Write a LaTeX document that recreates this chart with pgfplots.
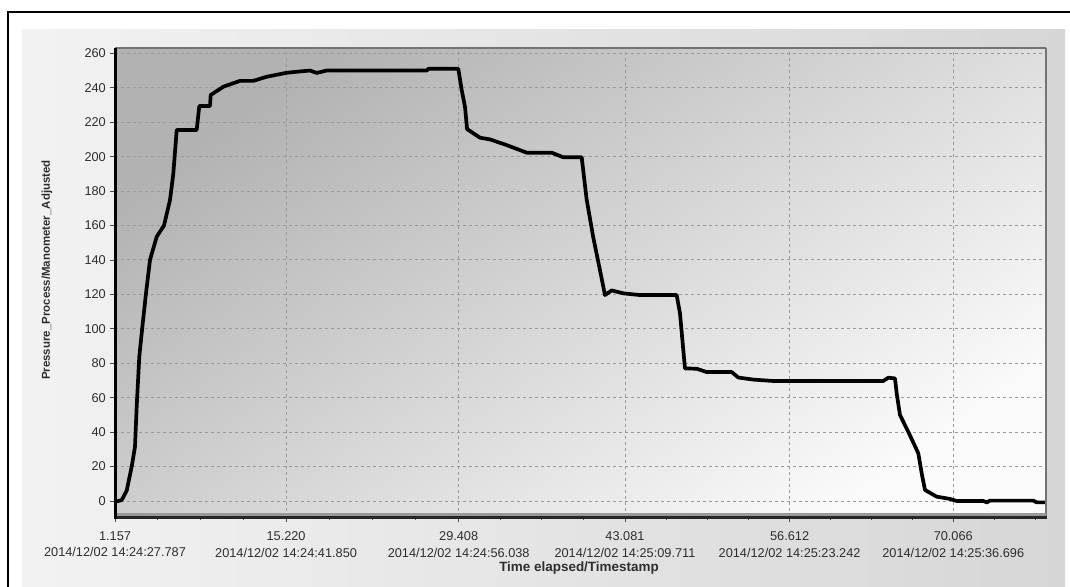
\documentclass[border=0pt]{standalone}
\usepackage{pgfplots}
\pgfplotsset{compat=1.18}
\usepackage{fontspec}
\setmainfont{Liberation Sans}
\definecolor{txt}{HTML}{2E2E2E}
\definecolor{gridc}{HTML}{9A9A9A}
\begin{document}
\begin{tikzpicture}
\useasboundingbox (0,0) rectangle (1070bp,587bp);
\fill[white] (0,0) rectangle (1070bp,587bp);
\shade[left color=black!5, right color=black!16] (22bp,-5bp) rectangle (1065bp,557bp);
\draw[black, line width=2bp] (8bp,-20bp) -- (8bp,575bp) -- (1090bp,575bp);
\begin{axis}[
  at={(115bp,70bp)}, anchor=south west,
  width=931bp, height=469bp, scale only axis,
  xmin=1.157, xmax=77.69, ymin=-9.3, ymax=263.1,
  axis background/.style={shade, top color=black!30, bottom color=black!2, shading angle=35},
  axis line style={draw=none},
  xtick={1.157,15.220,29.408,43.081,56.612,70.066},
  xticklabels={1.157\\2014/12/02 14:24:27.787, 15.220\\2014/12/02 14:24:41.850, 29.408\\2014/12/02 14:24:56.038, 43.081\\2014/12/02 14:25:09.711, 56.612\\2014/12/02 14:25:23.242, 70.066\\2014/12/02 14:25:36.696},
  minor xtick={4.673,8.189,11.704,18.767,22.314,25.861,32.826,36.245,39.663,46.464,49.846,53.229,59.976,63.339,66.703,73.43,76.79},
  ytick={0,20,...,260},
  tick align=outside, tick pos=left,
  major tick length=5bp, minor tick length=3bp,
  every tick/.style={color=black!70, line width=0.8bp},
  grid=major,
  major grid style={color=gridc, line width=0.9bp, dash pattern=on 3bp off 3bp},
  xticklabel style={align=center, inner sep=0pt, yshift=-9.5bp, font=\fontsize{12.8}{16.5}\selectfont, text=txt},
  yticklabel style={inner sep=0pt, xshift=-4bp, font=\fontsize{12.8}{15}\selectfont, text=txt},
  /pgf/number format/assume math mode=true,
  clip=true,
]
\addplot[black, line width=3.7bp, line join=round] coordinates {
(1.157,-0.5) (1.708,0.5) (2.119,6) (2.530,20) (2.801,31.5) (2.941,55) (3.155,84) (3.434,103) (3.705,120.6) (4.034,140) (4.585,153.5) (5.185,160) (5.678,174.8) (5.949,190) (6.229,215.5) (7.873,215.5) (8.087,229.4) (8.966,229.4) (9.024,235.8) (10.060,240.6) (11.432,244) (12.526,244) (13.627,246.4) (15.271,248.7) (16.093,249.3) (17.187,250) (17.737,248.6) (18.559,250) (26.780,250) (26.911,251) (29.378,251) (29.657,238.7) (29.928,229) (30.100,216) (31.161,211) (31.983,210) (33.356,206.7) (35.000,202.3) (37.055,202.3) (38.009,199.6) (39.521,199.6) (39.932,175) (40.475,153) (41.025,134) (41.436,119.6) (41.987,122.3) (42.941,120.6) (44.313,119.6) (47.330,119.6) (47.601,109) (48.012,77) (48.974,76.8) (49.796,74.9) (51.852,74.9) (52.394,71.7) (53.627,70.5) (55.271,69.7) (64.314,69.7) (64.725,71.6) (65.276,71.2) (65.416,62.5) (65.687,49.9) (66.369,40.2) (67.191,27.7) (67.471,16.1) (67.742,6.4) (68.704,2.5) (69.797,1.2) (70.348,0) (72.534,0) (72.814,-0.8) (73.085,0.2) (76.647,0.2) (76.927,-0.8) (77.609,-0.8)
};
\end{axis}
% axis frame lines
\draw[black!55, line width=1.5bp] (115bp,539bp) -- (1046bp,539bp);
\draw[black!55, line width=2bp] (1046bp,70bp) -- (1046bp,539bp);
\draw[black!40, line width=3bp] (115bp,72.5bp) -- (1046bp,72.5bp);
\draw[black!85, line width=3bp] (113.5bp,69.5bp) -- (1047bp,69.5bp);
\draw[black, line width=3bp] (115bp,68bp) -- (115bp,539bp);
\node[rotate=90, font=\bfseries\fontsize{11.5}{13}\selectfont, text=txt] at (47bp,317bp) {Pressure\_Process/Manometer\_Adjusted};
\node[font=\bfseries\fontsize{13.5}{15}\selectfont, text=txt] at (579bp,19bp) {Time elapsed/Timestamp};
\end{tikzpicture}
\end{document}
